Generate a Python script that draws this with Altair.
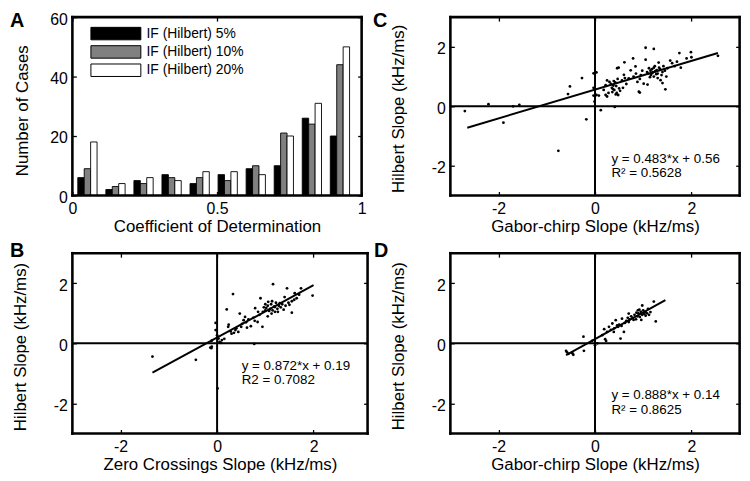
import altair as alt
import pandas as pd

FONT = "Liberation Sans"
TICK = 4

# ---------------- Panel A: histogram data ----------------
bin_centers = [0.052, 0.149, 0.246, 0.343, 0.440, 0.537, 0.634, 0.731, 0.828, 0.925]
series_names = ["IF (Hilbert) 5%", "IF (Hilbert) 10%", "IF (Hilbert) 20%"]
counts_5 = [6, 2, 5, 7, 4, 7, 9, 10, 26, 20]
counts_10 = [9, 3, 4, 6, 6, 5, 10, 21, 24, 44]
counts_20 = [18, 4, 6, 5, 8, 8, 7, 20, 31, 50]
series_colors = ["#000000", "#808080", "#ffffff"]
BAR_W = 0.0222

# ---------------- Panel B: Zero crossings vs Hilbert ----------------
b_x = [1.16, 1.45, 1.74, 1.98, 0.33, 0.20, 0.90, 1.55, 0.79, 1.40, 1.61, 0.47, 0.58, 0.55, 0.24, 0.23,
       0.38, 0.44, 0.70, 0.84, 0.94, 1.05, -0.03, -0.03, 0.00, 0.03, 0.10, -0.11, -0.14, 0.77, 1.13, 1.20,
       1.30, -1.34, -0.44, -0.12, -0.11, 0.01,
       0.95, 1.00, 1.02, 1.05, 1.08, 1.10, 1.12, 1.15, 1.18, 1.20, 1.22, 1.25, 1.28, 1.32, 1.35, 1.38,
       1.00, 0.97, 1.06, 1.14, 1.26, 1.42, 1.48, 1.50, 1.55, 1.60, 1.65, 1.70, 0.88, 0.85, 0.75, 0.65,
       0.60, 0.50, 0.52, 0.40, 0.35, 0.30, 0.28, 0.62, 0.78, 0.15, 0.05, 0.08]
b_y = [1.97, 1.83, 1.83, 1.59, 1.64, 1.13, 1.50, 1.02, 1.17, 1.54, 1.67, 0.99, 0.88, 0.77, 0.62, 0.55,
       0.44, 0.38, 0.57, 0.71, 0.55, 0.90, 0.68, 0.44, 0.27, 0.16, 0.11, 0.09, -0.14, -0.02, 0.99, 1.21,
       1.34, -0.44, -0.55, -0.16, -0.11, -1.50,
       1.05, 1.10, 1.18, 1.25, 1.08, 1.15, 1.30, 1.10, 1.22, 1.05, 1.35, 1.15, 1.25, 1.20, 1.30, 1.12,
       1.30, 1.20, 1.38, 1.40, 1.05, 1.25, 1.35, 1.28, 1.40, 1.45, 1.50, 1.62, 0.95, 1.05, 0.85, 0.80,
       0.70, 0.55, 0.65, 0.50, 0.35, 0.32, 0.40, 0.52, 0.75, 0.15, 0.05, 0.02]

# ---------------- Panel C: Gabor-chirp vs Hilbert ----------------
c_x = [-2.70, -2.21, -1.90, -1.70, -1.57, -0.76, -0.56, -0.52, -0.27, -0.18, -0.03, 0.03, -0.03, -0.03,
       -0.01, 0.12, 0.41, 0.03, 0.08, 1.05, 1.22, 1.75, 1.99, 2.00, 1.90, 2.55, 0.79, 0.61, 0.46, 0.49,
       0.84, 1.05, 1.56, 1.78, 1.32, 0.74, 0.60, 0.22, 0.25, 0.91, 0.93, 1.09, 1.40, 1.46, 1.22, 1.01,
       0.93, 0.70, 0.56, 0.25, 0.22,
       0.35, 0.38, 0.40, 0.42, 0.45, 0.48, 0.36, 0.50, 0.44, 0.39, 0.47, 0.33, 0.52, 0.43, 0.37,
       1.10, 1.15, 1.18, 1.20, 1.22, 1.25, 1.28, 1.12, 1.30, 1.16, 1.24, 1.35, 1.40, 1.33, 1.27, 1.19,
       1.38, 1.45, 1.08, 1.14, 1.42, 1.30, 1.36, 1.48, 1.50,
       0.65, 0.80, 0.85, 0.95, 0.98, 0.88, 0.62, 0.58, 1.60, 1.70, 1.65, 0.30, 0.18, 0.28]
c_y = [-0.16, 0.07, -0.55, 0.00, 0.05, -1.50, 0.41, 0.67, 0.95, -0.44, 1.11, 1.14, 0.62, 0.36,
       0.16, -0.13, -0.02, 0.38, 0.36, 1.97, 1.93, 1.79, 1.82, 1.65, 1.61, 1.70, 1.61, 1.48, 1.28, 1.30,
       1.34, 1.57, 1.54, 1.30, 1.47, 1.21, 1.06, 0.38, 0.33, 0.49, 0.46, 0.73, 0.78, 0.57, 1.00, 0.76,
       0.92, 0.94, 0.87, 0.87, 0.71,
       0.62, 0.70, 0.55, 0.80, 0.45, 0.38, 0.48, 0.60, 0.68, 0.85, 0.92, 0.75, 0.52, 0.40, 0.58,
       1.10, 1.20, 1.25, 1.15, 1.30, 1.18, 1.22, 1.28, 1.10, 1.05, 1.35, 1.25, 1.15, 1.30, 1.08, 1.12,
       1.05, 1.20, 1.15, 0.98, 1.35, 0.95, 0.88, 1.00, 1.28,
       0.75, 1.00, 1.10, 1.05, 1.20, 0.82, 0.95, 0.62, 1.45, 1.50, 1.35, 0.82, 0.55, 0.45]

# ---------------- Panel D: Gabor-chirp vs Hilbert ----------------
d_x = [1.22, 1.26, 1.15, 0.98, 0.89, 1.05, 0.70, 0.70, 0.56, 0.43, 0.46, 0.36, 0.29, 0.19, 0.25, 0.53,
       0.60, 0.21, 0.23, -0.24, -0.06, 0.00, 0.05, -0.23, -0.60, -0.47, 0.15, 0.39, -0.55, -0.45, -0.58,
       0.78, 0.82, 0.85, 0.88, 0.90, 0.93, 0.95, 0.98, 1.00, 1.02, 1.05, 0.80, 0.86, 0.92, 1.08, 0.75,
       0.65, 0.62, 0.50, 0.48, 0.40, 0.33, 0.55, 0.68, 0.72, 1.10, 0.96, 1.12]
d_y = [1.39, 0.73, 1.04, 1.26, 1.10, 1.04, 0.99, 0.71, 0.82, 0.77, 0.60, 0.66, 0.55, 0.47, 0.38, 0.16,
       0.38, 0.14, 0.08, 0.22, 0.08, -0.06, 0.00, -0.25, -0.25, -0.33, 0.27, 0.38, -0.35, -0.38, -0.30,
       0.85, 0.95, 0.80, 0.90, 1.00, 0.88, 1.05, 0.95, 1.10, 0.98, 0.92, 0.78, 1.02, 1.12, 1.00, 0.90,
       0.75, 0.68, 0.62, 0.55, 0.50, 0.45, 0.58, 0.85, 0.80, 1.15, 0.78, 0.95]

# fitted lines: slope, intercept, x range (from the figure annotations)
b_fit = [0.872, 0.19, -1.34, 2.0]
c_fit = [0.483, 0.56, -2.65, 2.55]
d_fit = [0.888, 0.14, -0.6, 1.46]

b_text = ["y = 0.872*x + 0.19", "R2 = 0.7082"]
c_text = ["y = 0.483*x + 0.56", "R\u00b2 = 0.5628"]
d_text = ["y = 0.888*x + 0.14", "R\u00b2 = 0.8625"]

NO_FRAME = alt.ViewBackground(stroke="transparent", fill="white")


def axis_x(title, values, title_y):
    return alt.Axis(orient="bottom", title=title, values=values, labelExpr="'' + datum.value",
                    offset=-TICK, tickSize=TICK, tickWidth=1.3, tickColor="black", domain=False,
                    grid=False, labelFont=FONT, labelFontSize=16, labelColor="black", labelPadding=5,
                    labelFlush=False, labelOverlap=False, titleFont=FONT, titleFontSize=17,
                    titleFontWeight="normal", titleColor="black", titleBaseline="top",
                    titleY=title_y + TICK)


def axis_y(title, values, title_x, title_y):
    return alt.Axis(orient="left", title=title, values=values, labelExpr="'' + datum.value",
                    offset=-TICK, tickSize=TICK, tickWidth=1.3, tickColor="black", domain=False,
                    grid=False, labelFont=FONT, labelFontSize=16, labelColor="black", labelPadding=5,
                    labelOffset=2, labelFlush=False, labelOverlap=False, titleFont=FONT,
                    titleFontSize=17, titleFontWeight="normal", titleColor="black",
                    titleBaseline="bottom", titleX=title_x - TICK, titleY=title_y)


def axis_ticks(orient, values):
    return alt.Axis(orient=orient, title=None, values=values, labels=False, domain=False, grid=False,
                    offset=-TICK, tickSize=TICK, tickWidth=1.3, tickColor="black")


def letter_layer(letter, lx, ly):
    return alt.Chart(pd.DataFrame({"t": [letter]})).mark_text(
        text=letter, align="left", baseline="top", font=FONT, fontSize=20, fontWeight="bold",
        color="black").encode(x=alt.value(lx), y=alt.value(ly))


def frame_layers(w, h):
    # black box around the plot area (MATLAB-style axes box), drawn as four rules
    one = pd.DataFrame({"f": [0]})
    sty = dict(color="black", strokeWidth=2.6, strokeCap="square")
    top = alt.Chart(one).mark_rule(**sty).encode(x=alt.value(0), x2=alt.value(w), y=alt.value(0))
    bot = alt.Chart(one).mark_rule(**sty).encode(x=alt.value(0), x2=alt.value(w), y=alt.value(h))
    lef = alt.Chart(one).mark_rule(**sty).encode(x=alt.value(0), y=alt.value(0), y2=alt.value(h))
    rig = alt.Chart(one).mark_rule(**sty).encode(x=alt.value(w), y=alt.value(0), y2=alt.value(h))
    return [top, bot, lef, rig]


def left_anchor(px):
    # invisible guide that pins the left edge of the figure's layout
    return alt.Chart(pd.DataFrame({"f": [0]})).mark_rule(
        opacity=0, strokeWidth=1).encode(x=alt.value(px), y=alt.value(40), y2=alt.value(41))


# ---------------- Panel A ----------------
rows = []
for si, (name, counts) in enumerate(zip(series_names, [counts_5, counts_10, counts_20])):
    for c, n in zip(bin_centers, counts):
        mid = c + (si - 1) * BAR_W
        rows.append({"series": name, "x0": mid - BAR_W / 2, "x1": mid + BAR_W / 2,
                     "count": n, "zero": 0})
df_a = pd.DataFrame(rows)

xsA = alt.Scale(domain=[0, 1], nice=False, zero=False)
ysA = alt.Scale(domain=[0, 60], nice=False, zero=False)
TOP_H = 180
BOT_H = 182

# legend swatch: a 4:1 rectangle drawn from a custom path (scaled by sqrt(size)/2)
SW_R = 6.3
bars = alt.Chart(df_a).mark_rect(stroke="black", strokeWidth=0.9).encode(
    x=alt.X("x0:Q", scale=xsA, axis=axis_x("Coefficient of Determination", [0, 0.5, 1], 23.7)),
    x2="x1:Q",
    y=alt.Y("count:Q", scale=ysA,
            axis=axis_y("Number of Cases", [0, 20, 40, 60], -41, 94)),
    y2="zero:Q",
    fill=alt.Fill("series:N", scale=alt.Scale(domain=series_names, range=series_colors),
                  legend=alt.Legend(title=None, orient="none", legendX=18 + 3 * SW_R, legendY=9.6,
                                    direction="vertical",
                                    symbolType="M-4,-1H4V1H-4Z", symbolSize=(2 * SW_R) ** 2,
                                    symbolStrokeColor="black", symbolStrokeWidth=1,
                                    labelFont=FONT, labelFontSize=14, labelColor="black",
                                    labelOffset=5 + 3 * SW_R, rowPadding=0.5, padding=0)),
)
ticksA = alt.Chart(df_a).mark_point(opacity=0).encode(
    x=alt.X("x0:Q", scale=xsA, axis=axis_ticks("top", [0, 0.5, 1])),
    y=alt.Y("count:Q", scale=ysA, axis=axis_ticks("right", [0, 20, 40, 60])),
)
panelA = alt.layer(bars, ticksA, *frame_layers(292, TOP_H), letter_layer("A", -63, -6),
                   left_anchor(-64.2)).resolve_axis(
    x="independent", y="independent").properties(width=292, height=TOP_H, view=NO_FRAME)


# ---------------- scatter panels ----------------
def scatter_panel(px, py, fit, texts, text_x, text_y, letter, lx, ly, xtitle, w, h, xdomain,
                  ytitle_y):
    xs = alt.Scale(domain=xdomain, nice=False, zero=False)
    ys = alt.Scale(domain=[-3, 3], nice=False, zero=False)
    df = pd.DataFrame({"x": px, "y": py})
    vrule = alt.Chart(pd.DataFrame({"x": [0]})).mark_rule(color="black", strokeWidth=2).encode(
        x=alt.X("x:Q", scale=xs, axis=None))
    hrule = alt.Chart(pd.DataFrame({"y": [0]})).mark_rule(color="black", strokeWidth=2).encode(
        y=alt.Y("y:Q", scale=ys, axis=None))
    line = alt.Chart(pd.DataFrame({"x": [fit[2], fit[3]]})).transform_calculate(
        y=f"{fit[0]} * datum.x + {fit[1]}").mark_line(color="black", strokeWidth=2).encode(
        x=alt.X("x:Q", scale=xs, axis=None), y=alt.Y("y:Q", scale=ys, axis=None))
    pts = alt.Chart(df).mark_circle(size=8, color="black", opacity=1).encode(
        x=alt.X("x:Q", scale=xs, axis=axis_x(xtitle, [-2, 0, 2], 23.7)),
        y=alt.Y("y:Q", scale=ys, axis=axis_y("Hilbert Slope (kHz/ms)", [-2, 0, 2], -43, ytitle_y)))
    ticks = alt.Chart(df).mark_point(opacity=0).encode(
        x=alt.X("x:Q", scale=xs, axis=axis_ticks("top", [-2, 0, 2])),
        y=alt.Y("y:Q", scale=ys, axis=axis_ticks("right", [-2, 0, 2])))
    tdf = pd.DataFrame({"x": [text_x, text_x], "y": text_y, "t": texts})
    txt = alt.Chart(tdf).mark_text(align="left", baseline="alphabetic", font=FONT, fontSize=13.5,
                                   color="black").encode(
        x=alt.X("x:Q", scale=xs, axis=None), y=alt.Y("y:Q", scale=ys, axis=None), text="t:N")
    return alt.layer(vrule, hrule, line, pts, ticks, txt, *frame_layers(w, h),
                     letter_layer(letter, lx, ly)).resolve_axis(
        x="independent", y="independent").properties(width=w, height=h, view=NO_FRAME)


panelC = scatter_panel(c_x, c_y, c_fit, c_text, 0.34, [-1.90, -2.37], "C", -78, -6,
                       "Gabor-chirp Slope (kHz/ms)", 292, TOP_H, [-3, 3], 92)
panelB = scatter_panel(b_x, b_y, b_fit, b_text, 0.51, [-0.88, -1.37], "B", -63, -12,
                       "Zero Crossings Slope (kHz/ms)", 298, BOT_H, [-3, 3.12], 94.2)
panelD = scatter_panel(d_x, d_y, d_fit, d_text, 0.34, [-1.86, -2.34], "D", -77, -12,
                       "Gabor-chirp Slope (kHz/ms)", 292, BOT_H, [-3, 3], 93.4)

chart = alt.concat(panelA, panelC, panelB, panelD, columns=2,
                   spacing={"row": 56.3, "column": 83.6}, bounds="flush", align="all",
                   padding=0).resolve_scale(fill="independent").configure(
    font=FONT).configure_view(stroke="transparent")

chart.save("out.html", embed_options={"renderer": "svg", "actions": False})
